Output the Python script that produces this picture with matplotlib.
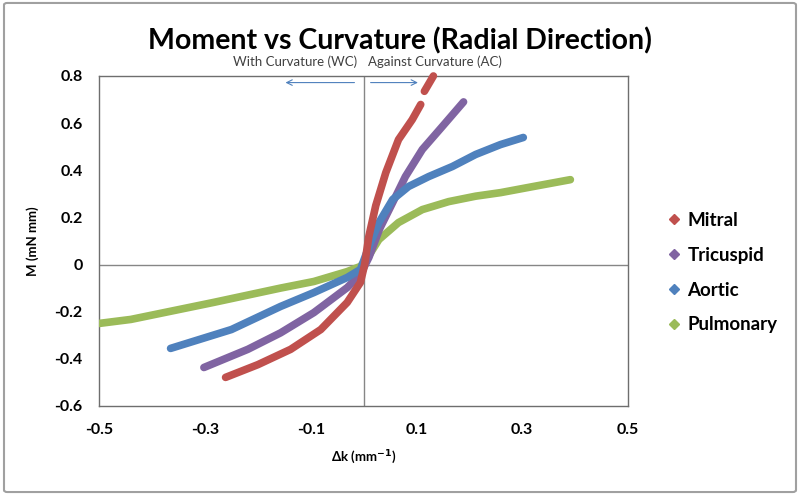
import matplotlib
matplotlib.use("Agg")
import matplotlib.pyplot as plt
from matplotlib.patches import FancyBboxPatch
from matplotlib.lines import Line2D

plt.rcParams['font.family'] = ['Lato', 'DejaVu Sans']

# data (curvature, moment)
mitral_k = [-0.261, -0.200, -0.138, -0.081, -0.031, -0.006, 0.002, 0.010, 0.023, 0.042, 0.066, 0.092, 0.108]
mitral_m = [-0.479, -0.425, -0.360, -0.276, -0.161, -0.076, 0.000, 0.120, 0.250, 0.390, 0.530, 0.615, 0.679]
mitral_top_k = [0.115, 0.132]
mitral_top_m = [0.735, 0.800]

tricuspid_k = [-0.302, -0.219, -0.157, -0.094, -0.031, -0.006, 0.010, 0.030, 0.055, 0.079, 0.111, 0.149, 0.189]
tricuspid_m = [-0.437, -0.360, -0.290, -0.204, -0.098, -0.042, 0.030, 0.150, 0.263, 0.373, 0.488, 0.586, 0.690]

aortic_k = [-0.365, -0.250, -0.157, -0.094, -0.031, -0.006, 0.010, 0.029, 0.055, 0.085, 0.123, 0.168, 0.212, 0.259, 0.302]
aortic_m = [-0.356, -0.276, -0.178, -0.119, -0.055, -0.021, 0.076, 0.178, 0.276, 0.331, 0.373, 0.416, 0.467, 0.509, 0.539]

pulmonary_k = [-0.500, -0.440, -0.284, -0.157, -0.094, -0.031, -0.006, 0.005, 0.029, 0.066, 0.111, 0.161, 0.212, 0.259, 0.321, 0.391]
pulmonary_m = [-0.250, -0.233, -0.161, -0.100, -0.072, -0.030, -0.008, 0.020, 0.106, 0.178, 0.233, 0.267, 0.290, 0.305, 0.331, 0.360]

names = ['Mitral', 'Tricuspid', 'Aortic', 'Pulmonary']
colors = ['#c0504d', '#8064a2', '#4f81bd', '#9bbb59']
x_ticks = [-0.5, -0.3, -0.1, 0.1, 0.3, 0.5]
y_ticks = [-0.6, -0.4, -0.2, 0, 0.2, 0.4, 0.6, 0.8]

fig = plt.figure(figsize=(8, 4.95), dpi=100)
ax = fig.add_axes([0.124, 0.18, 0.661, 0.6665])

# outer chart border
fig.patches.append(FancyBboxPatch((0.005, 0.006), 0.99, 0.988, boxstyle="round,pad=0,rounding_size=0.004",
                                  transform=fig.transFigure, fill=False, edgecolor='#a0a0a0', lw=1.5))

ax.axhline(0, color='#868686', lw=1, zorder=1)
ax.axvline(0, color='#868686', lw=1, zorder=1)

lw = 5.5
ax.plot(pulmonary_k, pulmonary_m, color=colors[3], lw=lw, solid_capstyle='round', solid_joinstyle='round', zorder=3)
ax.plot(aortic_k, aortic_m, color=colors[2], lw=lw, solid_capstyle='round', solid_joinstyle='round', zorder=4)
ax.plot(tricuspid_k, tricuspid_m, color=colors[1], lw=lw, solid_capstyle='round', solid_joinstyle='round', zorder=3.5)
ax.plot(mitral_k, mitral_m, color=colors[0], lw=lw, solid_capstyle='round', solid_joinstyle='round', zorder=5)
ax.plot(mitral_top_k, mitral_top_m, color=colors[0], lw=lw, solid_capstyle='round', zorder=5, clip_on=False)

ax.set_xlim(-0.5, 0.5)
ax.set_ylim(-0.6, 0.8)
ax.set_xticks(x_ticks)
ax.set_xticklabels(['-0.5', '-0.3', '-0.1', '0.1', '0.3', '0.5'])
ax.set_yticks(y_ticks)
ax.set_yticklabels(['-0.6', '-0.4', '-0.2', '0', '0.2', '0.4', '0.6', '0.8'])
ax.tick_params(length=0, labelsize=11.5, pad=12)
for lab in ax.get_xticklabels() + ax.get_yticklabels():
    lab.set_fontweight('bold')
for s in ax.spines.values():
    s.set_color('#6e6e6e')
    s.set_linewidth(1)

ax.set_xlabel(r'Δk (mm$^{\mathbf{-1}}$)', fontsize=9.5, fontweight='bold', labelpad=8)
ax.set_ylabel('M (mN mm)', fontsize=9.5, fontweight='bold', labelpad=11)

fig.text(0.5, 0.918, 'Moment vs Curvature (Radial Direction)', ha='center', va='center',
         fontsize=20.5, fontweight='bold')

# direction annotations
ax.text(-0.012, 0.862, 'With Curvature (WC)', ha='right', va='center', fontsize=9.5, color='#404040', clip_on=False)
ax.text(0.008, 0.862, 'Against Curvature (AC)', ha='left', va='center', fontsize=9.5, color='#404040', clip_on=False)
ax.annotate('', xy=(-0.153, 0.772), xytext=(-0.012, 0.772),
            arrowprops=dict(arrowstyle='->', color='#4f81bd', lw=0.8))
ax.annotate('', xy=(0.108, 0.772), xytext=(0.008, 0.772),
            arrowprops=dict(arrowstyle='->', color='#4f81bd', lw=0.8))

handles = [Line2D([], [], color=c, marker='D', ls='none', markersize=5) for c in colors]
leg = fig.legend(handles, names, loc='center left', bbox_to_anchor=(0.81, 0.449), frameon=False,
                 handletextpad=0.2, labelspacing=0.95, handlelength=1.0,
                 prop={'weight': 'bold', 'size': 13.5})

fig.savefig('out.png', dpi=100)
